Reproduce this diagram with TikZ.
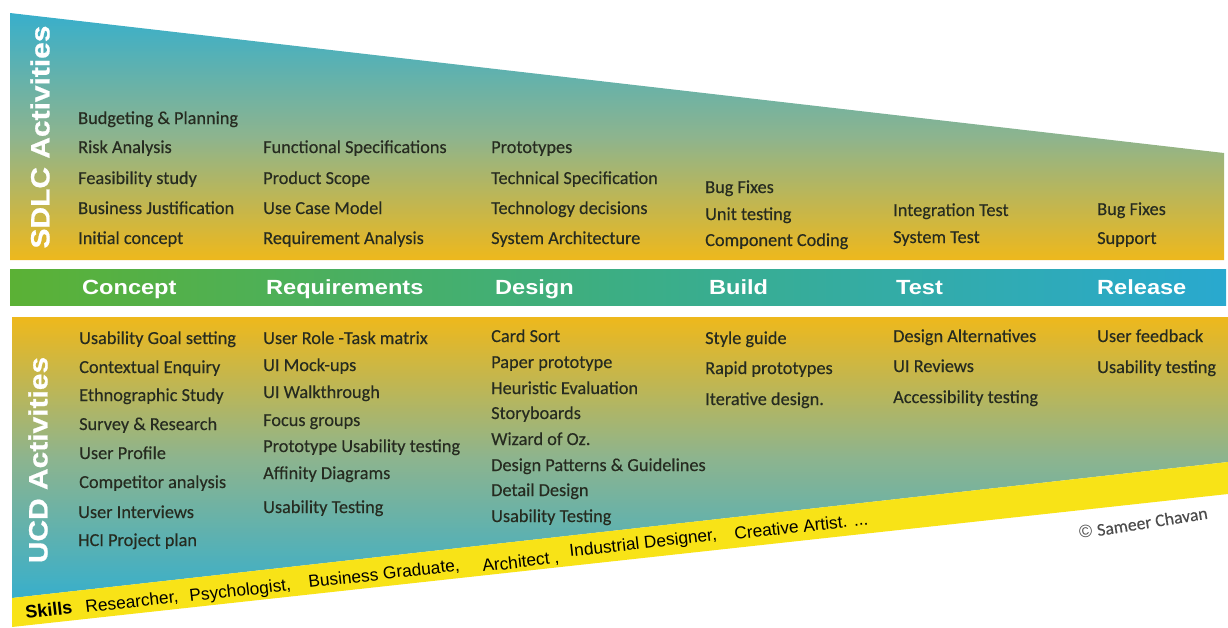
\documentclass[tikz,border=0pt]{standalone}
\usepackage{fontspec}
\setmainfont[FakeBold=0.25]{Carlito}
\newfontfamily\arialf{Liberation Sans}
\newfontfamily\widef[FakeStretch=1.15]{Liberation Sans}
\newfontfamily\sidef[FakeStretch=1.13,BoldFeatures={FakeBold=0.7}]{Liberation Sans}
\definecolor{skyc}{HTML}{38AFCB}
\definecolor{midc}{HTML}{8DB48E}
\definecolor{ambc}{HTML}{EEB81C}
\definecolor{grnc}{HTML}{5BB135}
\definecolor{grbc}{HTML}{3CAE84}
\definecolor{cyac}{HTML}{29A9CF}
\definecolor{ylwc}{HTML}{F8E317}
\definecolor{inkc}{HTML}{262B20}
\tikzset{
  item/.style={anchor=base west,inner sep=0pt,text=inkc,font=\fontsize{18.3}{20}\selectfont},
  phase/.style={anchor=base west,inner sep=0pt,text=white,font=\widef\bfseries\fontsize{20.5}{22}\selectfont},
  side/.style={inner sep=0pt,rotate=90,text=white,font=\sidef\bfseries\fontsize{26.5}{28}\selectfont},
  skill/.style={anchor=base west,inner sep=0pt,rotate=6.5,text=black,font=\arialf\fontsize{17.3}{18}\selectfont},
}
\begin{document}
\begin{tikzpicture}[x=1pt,y=-1pt]
\useasboundingbox (0,0) rectangle (1228,627);
% bands
\path[top color=skyc,bottom color=ambc,middle color=midc] (10,13) -- (1224,153) -- (1224,260) -- (10,260) -- cycle;
\path[left color=grnc,right color=cyac,middle color=grbc] (10,269) rectangle (1226,305);
\path[top color=ambc,bottom color=skyc,middle color=midc] (12,317) -- (1228,317) -- (1228,462) -- (12,598) -- cycle;
\path[fill=ylwc] (12,598) -- (1228,462) -- (1228,494) -- (12,627) -- cycle;
% side labels
\node[side] (sdlc) at (40,137) {SDLC Activities};
\node[side] (ucd) at (38,460) {UCD Activities};
% phases
\node[phase] (p1) at (82,294) {Concept};
\node[phase] (p2) at (266,294) {Requirements};
\node[phase] (p3) at (495,294) {Design};
\node[phase] (p4) at (709,294) {Build};
\node[phase] (p5) at (896,294) {Test};
\node[phase] (p6) at (1097,294) {Release};
% SDLC items
\node[item] (a1) at (78,124) {Budgeting \& Planning};
\node[item] (a2) at (78,153) {Risk Analysis};
\node[item] (a3) at (78,184) {Feasibility study};
\node[item] (a4) at (78,214) {Business Justification};
\node[item] (a5) at (78,244) {Initial concept};
\node[item] (b1) at (263,153) {Functional Specifications};
\node[item] (b2) at (263,184) {Product Scope};
\node[item] (b3) at (263,214) {Use Case Model};
\node[item] (b4) at (263,244) {Requirement Analysis};
\node[item] (c1) at (491,153) {Prototypes};
\node[item] (c2) at (491,184) {Technical Specification};
\node[item] (c3) at (491,214) {Technology decisions};
\node[item] (c4) at (491,244) {System Architecture};
\node[item] (d1) at (705,193) {Bug Fixes};
\node[item] (d2) at (705,220) {Unit testing};
\node[item] (d3) at (705,246) {Component Coding};
\node[item] (e1) at (893,216) {Integration Test};
\node[item] (e2) at (893,243) {System Test};
\node[item] (f1) at (1097,215) {Bug Fixes};
\node[item] (f2) at (1097,244) {Support};
% UCD items
\node[item] (g1) at (79,344) {Usability Goal setting};
\node[item] (g2) at (79,373) {Contextual Enquiry};
\node[item] (g3) at (79,401) {Ethnographic Study};
\node[item] (g4) at (79,430) {Survey \& Research};
\node[item] (g5) at (79,459) {User Profile};
\node[item] (g6) at (79,488) {Competitor analysis};
\node[item] (g7) at (78,518) {User Interviews};
\node[item] (g8) at (78,546) {HCI Project plan};
\node[item] (h1) at (263,344) {User Role -Task matrix};
\node[item] (h2) at (263,371) {UI Mock-ups};
\node[item] (h3) at (263,398) {UI Walkthrough};
\node[item] (h4) at (263,426) {Focus groups};
\node[item] (h5) at (263,452) {Prototype Usability testing};
\node[item] (h6) at (263,479) {Affinity Diagrams};
\node[item] (h7) at (263,513) {Usability Testing};
\node[item] (i1) at (491,342) {Card Sort};
\node[item] (i2) at (491,368) {Paper prototype};
\node[item] (i3) at (491,394) {Heuristic Evaluation};
\node[item] (i4) at (491,419) {Storyboards};
\node[item] (i5) at (491,445) {Wizard of Oz.};
\node[item] (i6) at (491,471) {Design Patterns \& Guidelines};
\node[item] (i7) at (491,496) {Detail Design};
\node[item] (i8) at (491,522) {Usability Testing};
\node[item] (j1) at (705,344) {Style guide};
\node[item] (j2) at (705,374) {Rapid prototypes};
\node[item] (j3) at (705,405) {Iterative design.};
\node[item] (k1) at (893,342) {Design Alternatives};
\node[item] (k2) at (893,372) {UI Reviews};
\node[item] (k3) at (893,403) {Accessibility testing};
\node[item] (l1) at (1097,342) {User feedback};
\node[item] (l2) at (1097,373) {Usability testing};
% skills
\node[skill,font=\arialf\bfseries\fontsize{18}{19}\selectfont] (s0) at (26,619) {Skills};
\node[skill] (s1) at (86,613) {Researcher,};
\node[skill] (s2) at (190,602) {Psychologist,};
\node[skill] (s3) at (309,588) {Business Graduate,};
\node[skill] (s4) at (483,572) {Architect ,};
\node[skill] (s5) at (570,557) {Industrial Designer,};
\node[skill] (s6) at (735,540) {Creative Artist. ...};
\node[inner sep=0pt,anchor=base west,rotate=9,text=black!70,font=\fontsize{17.8}{18}\selectfont] (cr) at (1080,539) {\arialf ©\ \rmfamily Sameer Chavan};
\end{tikzpicture}
\end{document}
